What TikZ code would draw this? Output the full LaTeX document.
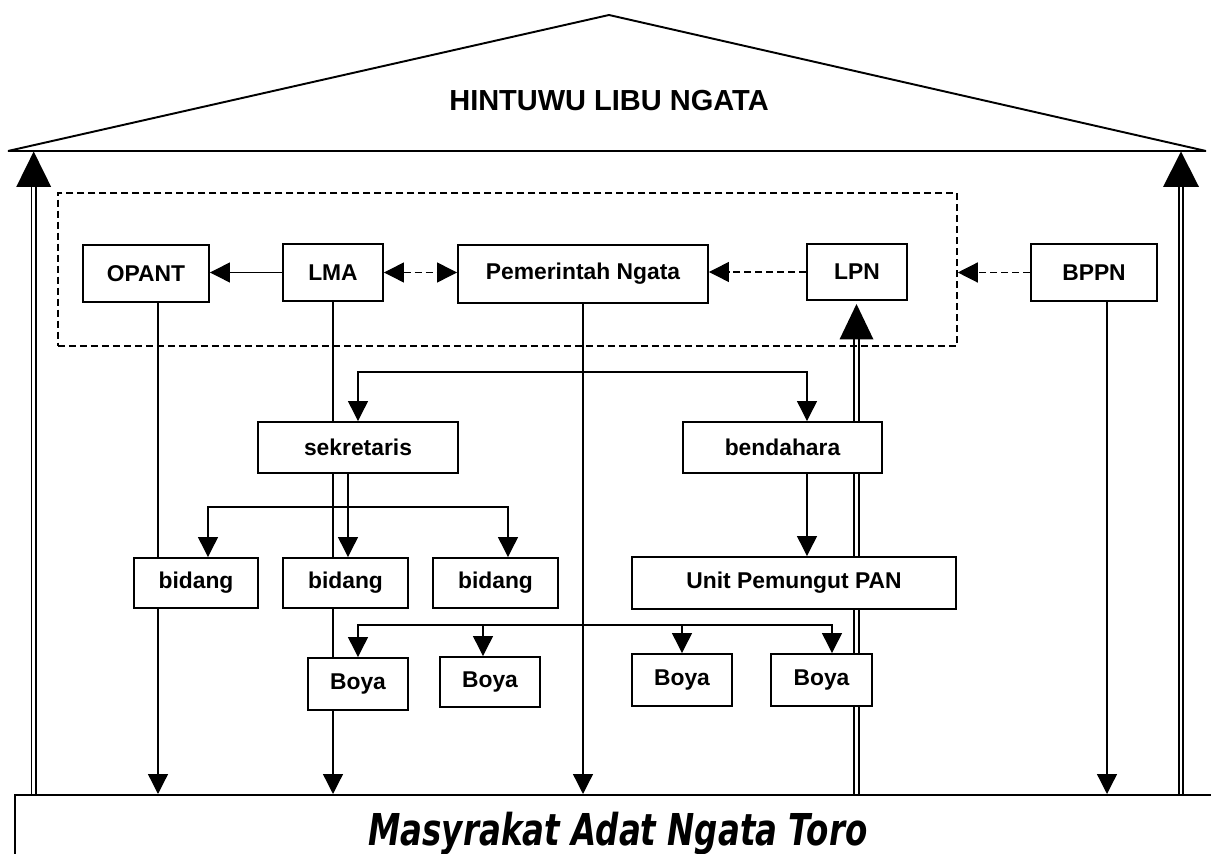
\documentclass[tikz,border=0pt]{standalone}
\usepackage{fontspec}
\setmainfont{Liberation Sans}
\newfontfamily\dvfont{DejaVu Sans}
\usetikzlibrary{arrows.meta,backgrounds}
\begin{document}
\begin{tikzpicture}[x=0.02cm,y=-0.02cm,
  box/.style={draw,line width=1.1pt,fill=white,inner sep=0pt,
    font=\bfseries\fontsize{13}{15}\selectfont},
  sz/.style 2 args={minimum width=#1*0.02cm,minimum height=#2*0.02cm},
  con/.style={line width=0.75pt},
  tri/.tip={Triangle[length=0.4cm,width=0.4cm]},
  arr/.style={con,-tri},
  dsh/.style={con,dash pattern=on 0.14cm off 0.08cm},
  dbl/.style={double,double distance=1.4pt,line width=1.1pt},
  bigtip/.style={fill=black}]
\useasboundingbox (0,0) rectangle (1211,854);
\clip (0,0) rectangle (1211,854);

% columns and rows
\coordinate (cO) at (158,0);
\coordinate (cL) at (333,0);
\coordinate (cS) at (348,0);
\coordinate (cP) at (583,0);
\coordinate (cB) at (1107,0);
\coordinate (cA1) at (358,0);
\coordinate (cA2) at (807,0);
\coordinate (cb1) at (208,0);
\coordinate (cb3) at (508,0);
\coordinate (cy1) at (358,0);
\coordinate (cy2) at (483,0);
\coordinate (cy3) at (682,0);
\coordinate (cy4) at (832,0);
\coordinate (r1) at (0,372);
\coordinate (r2) at (0,507);
\coordinate (r3) at (0,625);
\coordinate (rTop) at (0,186.5);
\coordinate (rLpn) at (0,339);

% roof
\coordinate (roofL) at (8,151);
\coordinate (apex) at (609,15);
\coordinate (roofR) at (1206,151);
\draw[line width=1.1pt,line join=bevel] (roofL) -- (apex) -- (roofR) -- cycle;
\node[font=\bfseries\fontsize{16.5}{19}\selectfont] (title) at (609,101) {HINTUWU LIBU NGATA};

% group (dashed)
\node[draw,dsh,line width=0.9pt,inner sep=0pt,sz={899}{153}] (grp) at (507.5,269.5) {};

% boxes
\node[box,sz={126}{57}] (opant) at (146,273.5) {OPANT};
\node[box,sz={100}{57}] (lma) at (333,272.5) {LMA};
\node[box,sz={250}{58}] (pem) at (583,274) {Pemerintah Ngata};
\node[box,sz={100}{56}] (lpn) at (857,272) {LPN};
\node[box,sz={126}{57}] (bppn) at (1094,272.5) {BPPN};
\node[box,sz={200}{51}] (sek) at (358,447.5) {sekretaris};
\node[box,sz={199}{51}] (ben) at (782.5,447.5) {bendahara};
\node[box,sz={124}{50}] (bid1) at (196,583) {bidang};
\node[box,sz={125}{50}] (bid2) at (345.5,583) {bidang};
\node[box,sz={125}{50}] (bid3) at (495.5,583) {bidang};
\node[box,sz={324}{52}] (unit) at (794,583) {Unit Pemungut PAN};
\node[box,sz={100}{52}] (boya1) at (358,684) {Boya};
\node[box,sz={100}{50}] (boya2) at (490,682) {Boya};
\node[box,sz={100}{52}] (boya3) at (682,680) {Boya};
\node[box,sz={101}{52}] (boya4) at (821.5,680) {Boya};

% bottom
\node[draw,line width=1.1pt,inner sep=0pt,sz={1206}{90},anchor=north west] (mas) at (14,794) {};
\node[font=\dvfont\bfseries\itshape\fontsize{25}{28}\selectfont,xscale=0.74,anchor=base] (mastext) at (618,845) {Masyrakat Adat Ngata Toro};

\begin{scope}[on background layer]
  % top row connectors
  \draw[arr] (lma.west) -- (lma.west -| opant.east);
  \draw[dsh,tri-tri] (lma.east) -- (lma.east -| pem.west);
  \draw[dsh,-tri] (lpn.west) -- (lpn.west -| pem.east);
  \draw[dsh,-tri] (bppn.west) -- (bppn.west -| grp.east);
  % long verticals to bottom
  \draw[arr] (cO |- opant.south) -- (cO |- mas.north);
  \draw[arr] (cL |- lma.south) -- (cL |- mas.north);
  \draw[arr] (cP |- pem.south) -- (cP |- mas.north);
  \draw[arr] (cB |- bppn.south) -- (cB |- mas.north);
  % sekretaris / bendahara bracket
  \draw[con,tri-tri,line join=miter] (cA1 |- sek.north) -- (cA1 |- r1) -- (cA2 |- r1) -- (cA2 |- ben.north);
  % sekretaris to bidang
  \draw[arr] (cS |- sek.south) -- (cS |- bid2.north);
  \draw[con,tri-tri,line join=miter] (cb1 |- bid1.north) -- (cb1 |- r2) -- (cb3 |- r2) -- (cb3 |- bid3.north);
  % bendahara to unit
  \draw[arr] (cA2 |- ben.south) -- (cA2 |- unit.north);
  % boya bracket
  \draw[con,tri-tri,line join=miter] (cy1 |- boya1.north) -- (cy1 |- r3) -- (cy4 |- r3) -- (cy4 |- boya4.north);
  \draw[arr] (cy2 |- r3) -- (cy2 |- boya2.north);
  \draw[arr] (cy3 |- r3) -- (cy3 |- boya3.north);
  % big double arrows
  \coordinate (tipL) at (33.7,151.5);
  \coordinate (tipR) at (1181,151.5);
  \coordinate (tipP) at (856.5,304);
  \draw[dbl] (tipL |- mas.north) -- (tipL |- rTop);
  \fill (tipL) -- ++(-17.5,35.5) -- ++(35,0) -- cycle;
  \draw[dbl] (tipR |- mas.north) -- (tipR |- rTop);
  \fill (tipR) -- ++(-18,35.5) -- ++(36,0) -- cycle;
  \draw[dbl] (tipP |- mas.north) -- (tipP |- rLpn);
  \fill (tipP) -- ++(-17,35.5) -- ++(34,0) -- cycle;
\end{scope}
\end{tikzpicture}
\end{document}
